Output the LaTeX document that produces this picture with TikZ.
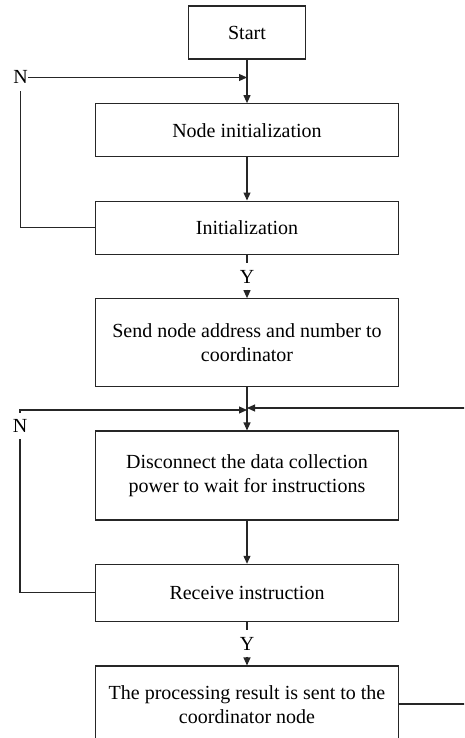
\documentclass[tikz,border=0pt]{standalone}
\usepackage{fontspec}
\setmainfont{Liberation Serif}
\usetikzlibrary{arrows.meta}
\begin{document}
\begin{tikzpicture}[x=1pt,y=-1pt,
  box/.style={draw=black!85, line width=1.1pt, align=center, font=\fontsize{20}{24}\selectfont, inner sep=0pt, minimum width=303pt},
  lbl/.style={font=\fontsize{20}{24}\selectfont, inner xsep=0pt, inner ysep=6.5pt, text height=13pt, text depth=0pt},
  conn/.style={draw=black!85, line width=1.1pt},
  arr/.style={conn, -{Triangle[length=8pt,width=7pt]}}]
\clip (0,0) rectangle (464,738);
% boxes
\node[box, minimum width=117pt, minimum height=53pt] (start) at (247,32.5) {Start};
\node[box, minimum height=53pt] (ninit) at (247,130.2) {Node initialization};
\node[box, minimum height=53.3pt] (init) at (247,227.7) {Initialization};
\node[box, minimum height=88pt] (send) at (247,342.7) {Send node address and number to\\coordinator};
\node[box, minimum height=89pt] (disc) at (247,475.5) {Disconnect the data collection\\power to wait for instructions};
\node[box, minimum height=56.7pt] (recv) at (247,592.7) {Receive instruction};
\node[box, minimum height=78pt] (proc) at (247,705) {The processing result is sent to the\\coordinator node};
% labels
\node[lbl] (n1) at (20.5,77.5) {N};
\node[lbl] (y1) at (247,276.5) {Y};
\node[lbl] (n2) at (20,426) {N};
\node[lbl] (y2) at (247,643.5) {Y};
\coordinate (jl) at (247,410);
\coordinate (jr) at (247,408);
\coordinate (rc) at (470,704);
% connectors
\draw[arr] (start.south) -- (ninit.north);
\draw[arr] (ninit.south) -- (init.north);
\draw[conn] (init.west) -| (n1.south);
\draw[arr] (n1.east) -- (n1.east -| start.south);
\draw[conn] (init.south) -- (y1.north);
\draw[arr] (y1.south) -- (send.north);
\draw[arr] (send.south) -- (disc.north);
\draw[arr] (disc.south) -- (recv.north);
\draw[conn] (recv.west) -| (n2.south);
\draw[arr] (n2.north) |- (jl);
\draw[conn] (recv.south) -- (y2.north);
\draw[arr] (y2.south) -- (proc.north);
\draw[arr] (proc.east |- rc) -- (rc) |- (jr);
\end{tikzpicture}
\end{document}
